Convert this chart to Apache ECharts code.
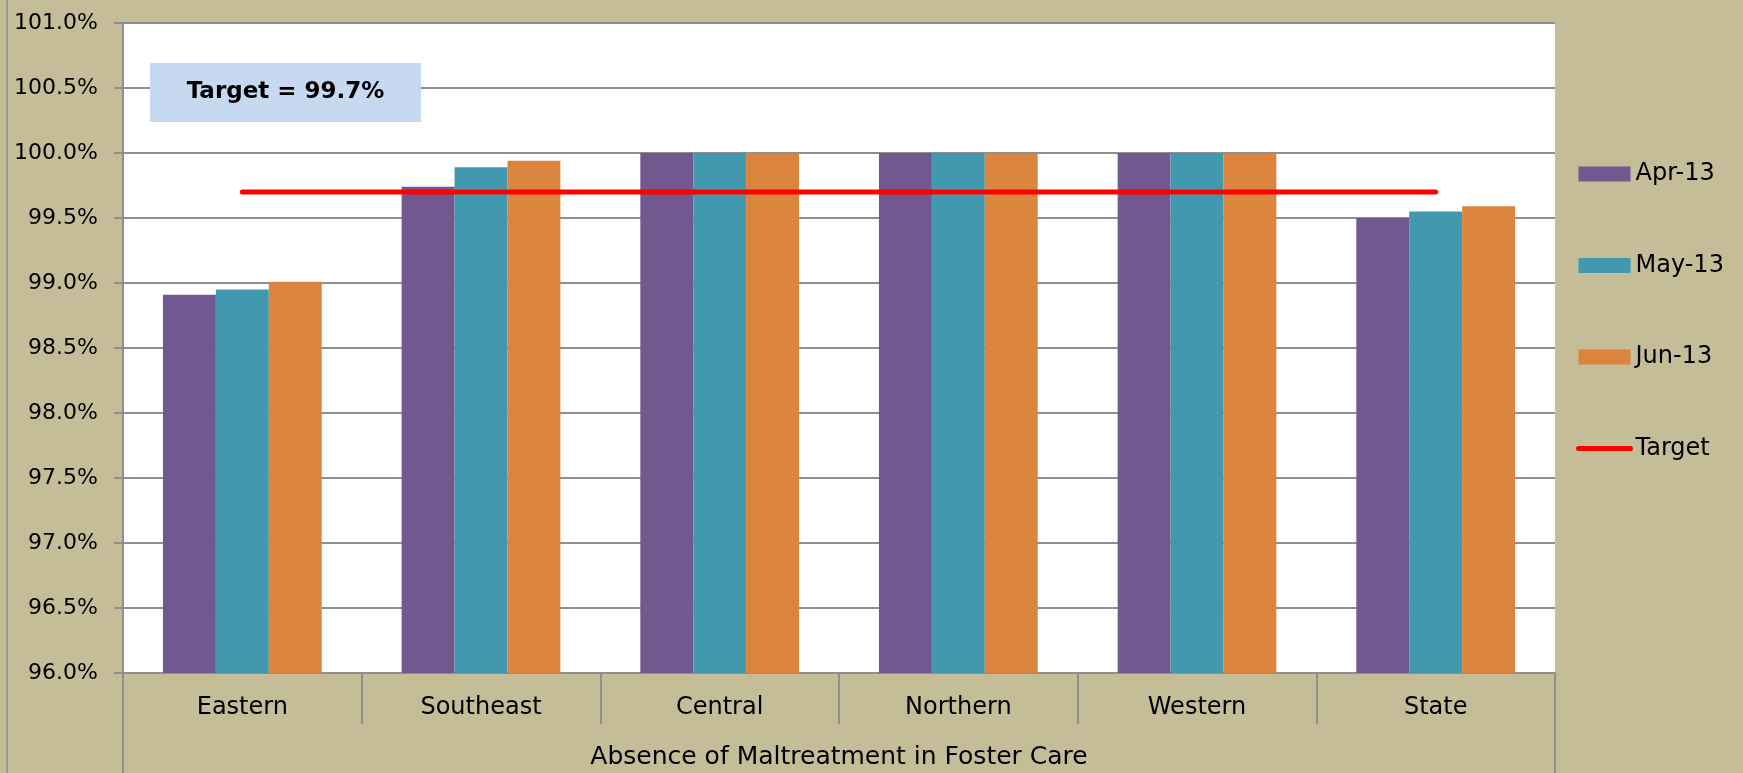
<!DOCTYPE html>
<html>
<head>
<meta charset="utf-8">
<script src="https://cdn.jsdelivr.net/npm/echarts@6/dist/echarts.min.js"></script>
<style>
html,body{margin:0;padding:0;background:#C4BD97;}
#chart{width:1743px;height:773px;}
</style>
</head>
<body>
<div id="chart"></div>
<script>
var categories = ['Eastern', 'Southeast', 'Central', 'Northern', 'Western', 'State'];
var groupLabel = ['Absence of Maltreatment in Foster Care'];
var apr13 = [98.91, 99.74, 100.0, 100.0, 100.0, 99.50];
var may13 = [98.95, 99.89, 100.0, 100.0, 100.0, 99.55];
var jun13 = [99.01, 99.94, 100.0, 100.0, 100.0, 99.59];
var target = [99.7, 99.7, 99.7, 99.7, 99.7, 99.7];
var yMin = 96, yMax = 101, yStep = 0.5;
var targetText = 'Target = 99.7%';

var FONT = 'DejaVu Sans';
var GRAY = '#8f8f8f';
var chart = echarts.init(document.getElementById('chart'));
chart.setOption({
  backgroundColor: '#C4BD97',
  animation: false,
  textStyle: { fontFamily: FONT },
  grid: { left: 123, right: 188, top: 23, bottom: 100, show: true, backgroundColor: '#ffffff', borderWidth: 0 },
  legend: {
    orient: 'vertical',
    left: 1576,
    top: 162,
    padding: 0,
    itemWidth: 52,
    itemHeight: 15,
    itemGap: 67.5,
    textStyle: { fontFamily: FONT, fontSize: 24, lineHeight: 24, color: '#000' },
    data: [
      { name: 'Apr-13', icon: 'rect' },
      { name: 'May-13', icon: 'rect' },
      { name: 'Jun-13', icon: 'rect' },
      { name: 'Target', itemStyle: { opacity: 0 }, lineStyle: { width: 5, cap: 'round', color: '#FF0000' } }
    ]
  },
  xAxis: [
    {
      type: 'category',
      data: categories,
      position: 'bottom',
      axisLine: { show: true, lineStyle: { color: GRAY, width: 2 } },
      axisTick: { show: true, interval: 0, length: 51, lineStyle: { color: GRAY, width: 2 } },
      axisLabel: { interval: 0, margin: 23, fontFamily: FONT, fontSize: 24, lineHeight: 24, color: '#000' },
      splitLine: { show: false }
    },
    {
      type: 'category',
      data: groupLabel,
      position: 'bottom',
      offset: 0,
      axisLine: { show: false },
      axisTick: { show: true, interval: 0, length: 100, lineStyle: { color: GRAY, width: 2 } },
      axisLabel: { interval: 0, margin: 72, fontFamily: FONT, fontSize: 25, lineHeight: 25, color: '#000' },
      splitLine: { show: false }
    }
  ],
  yAxis: {
    type: 'value',
    min: yMin,
    max: yMax,
    interval: yStep,
    axisLine: { show: true, lineStyle: { color: GRAY, width: 2 } },
    axisTick: { show: true, length: 9, lineStyle: { color: GRAY, width: 2 } },
    axisLabel: {
      margin: 25,
      fontFamily: FONT, fontSize: 22, color: '#000',
      formatter: function (v) { return v.toFixed(1) + '%'; }
    },
    splitLine: { show: true, lineStyle: { color: GRAY, width: 2 } }
  },
  series: [
    { name: 'Apr-13', type: 'bar', data: apr13, barGap: '0%', barCategoryGap: '33.5%', itemStyle: { color: '#71588F' } },
    { name: 'May-13', type: 'bar', data: may13, barGap: '0%', barCategoryGap: '33.5%', itemStyle: { color: '#4298AF' } },
    { name: 'Jun-13', type: 'bar', data: jun13, barGap: '0%', barCategoryGap: '33.5%', itemStyle: { color: '#DB843D' } },
    { name: 'Target', type: 'line', data: target, symbol: 'none', z: 5,
      lineStyle: { color: '#FF0000', width: 5, cap: 'round' }, itemStyle: { color: '#FF0000' } }
  ],
  graphic: [
    { type: 'line', shape: { x1: 7, y1: 0, x2: 7, y2: 773 }, style: { stroke: '#999999', lineWidth: 2 }, silent: true },
    { type: 'rect', shape: { x: 150, y: 63, width: 271, height: 59 }, style: { fill: '#C6D9F1' }, z: 10 },
    { type: 'text', x: 285.5, y: 92.5, z: 11,
      style: { text: targetText, font: 'bold 23px "DejaVu Sans"', fill: '#000', align: 'center', verticalAlign: 'middle' } }
  ]
});
</script>
</body>
</html>
